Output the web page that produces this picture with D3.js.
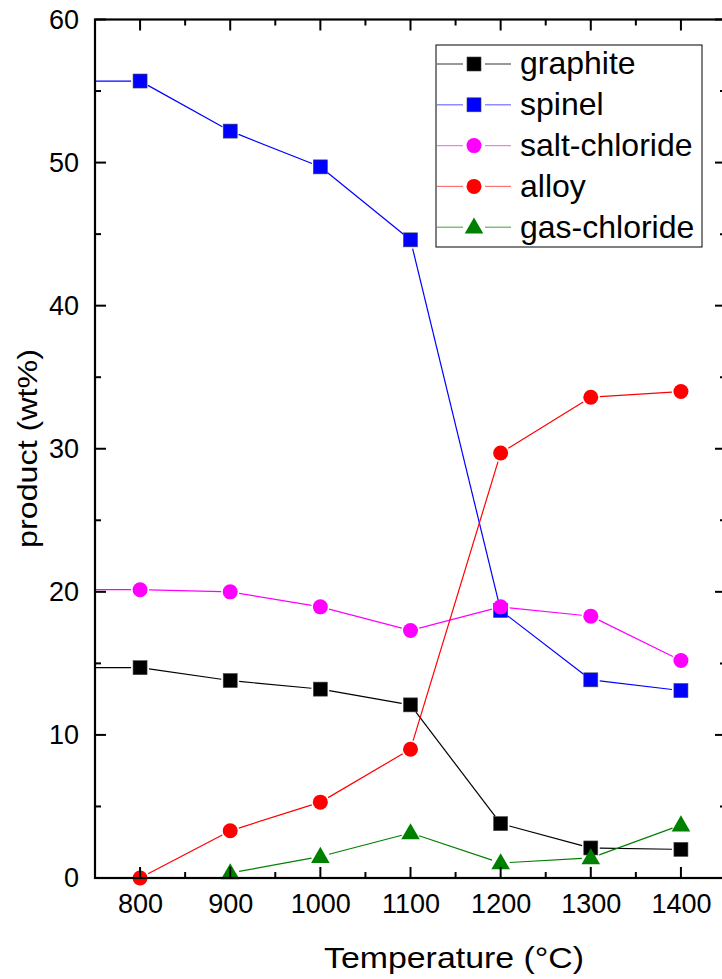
<!DOCTYPE html>
<html><head><meta charset="utf-8">
<script src="https://cdn.jsdelivr.net/npm/d3@7"></script>
<style>body{margin:0;background:#fff}svg{display:block}text{font-family:"Liberation Sans",Arial,sans-serif}</style>
</head><body><svg id="c" width="722" height="979"></svg>
<script>
// Data (temperature in °C, product in wt%). A point at 700 lies outside the visible range (clipped).
const temps = [700, 800, 900, 1000, 1100, 1200, 1300, 1400];
const graphite = [14.7, 14.7, 13.8, 13.2, 12.1, 3.8, 2.1, 2.0];
const spinel = [55.7, 55.7, 52.2, 49.7, 44.6, 18.7, 13.85, 13.1];
const saltChloride = [20.15, 20.15, 20.0, 18.95, 17.3, 18.95, 18.3, 15.2];
const alloy = [null, 0, 3.3, 5.3, 9.0, 29.7, 33.6, 34.0];
const gasChloride = [null, null, 0.35, 1.5, 3.15, 1.05, 1.4, 3.7];
const seriesNames = ["graphite", "spinel", "salt-chloride", "alloy", "gas-chloride"];
const xTicks = [800, 900, 1000, 1100, 1200, 1300, 1400];
const yTicks = [0, 10, 20, 30, 40, 50, 60];

const styles = [
  {color:"#000000", legend:"#555555", shape:"square"},
  {color:"#0000ff", legend:"#7070ff", shape:"square"},
  {color:"#ff00ff", legend:"#ff70ff", shape:"circle"},
  {color:"#ff0000", legend:"#ff7070", shape:"circle"},
  {color:"#008000", legend:"#60b060", shape:"triangle"}
];
const values = [graphite, spinel, saltChloride, alloy, gasChloride];

const svg = d3.select("#c");
const L = 95, R = 726, T = 19.5, B = 878;
const x = d3.scaleLinear().domain([750, 1450]).range([L, R]);
const y = d3.scaleLinear().domain([0, 60]).range([B, T]);

svg.append("defs").append("clipPath").attr("id","clip")
  .append("rect").attr("x",L).attr("y",T-20).attr("width",R-L).attr("height",B-T+40);

function marker(g, shape, cx, cy, color){
  if(shape==="square"){
    g.append("rect").attr("x",cx-7).attr("y",cy-7).attr("width",14).attr("height",14)
      .attr("fill",color).attr("stroke","#444").attr("stroke-width",0.6);
  } else if(shape==="circle"){
    g.append("circle").attr("cx",cx).attr("cy",cy).attr("r",7.5).attr("fill",color);
  } else {
    const s = d3.symbol().type(d3.symbolTriangle).size(150);
    g.append("path").attr("d",s()).attr("transform",`translate(${cx},${cy+1})`).attr("fill",color);
  }
}

const plot = svg.append("g").attr("clip-path","url(#clip)");
const gap = 9;
values.forEach((vals, i) => {
  const st = styles[i];
  const pts = temps.map((t, j) => vals[j] == null ? null : [x(t), y(vals[j])]).filter(p => p);
  const g = plot.append("g");
  for(let k=0;k<pts.length-1;k++){
    const [x1,y1] = pts[k], [x2,y2] = pts[k+1];
    const d = Math.hypot(x2-x1,y2-y1);
    if(d < 2*gap) continue;
    const ux=(x2-x1)/d, uy=(y2-y1)/d;
    g.append("line").attr("x1",x1+ux*gap).attr("y1",y1+uy*gap)
      .attr("x2",x2-ux*gap).attr("y2",y2-uy*gap)
      .attr("stroke",st.color).attr("stroke-width",1.2);
  }
  pts.forEach(p => marker(g, st.shape, p[0], p[1], st.color));
});

// Frame with inward ticks
const minorX = d3.range(750, 1451, 50);
const minorY = d3.range(0, 61, 5);
const ax = svg.append("g").attr("stroke","#000");
minorX.forEach(v => {
  const len = xTicks.includes(v) ? 11 : 6;
  ax.append("line").attr("x1",x(v)).attr("x2",x(v)).attr("y1",B).attr("y2",B-len).attr("stroke-width",2);
  ax.append("line").attr("x1",x(v)).attr("x2",x(v)).attr("y1",T).attr("y2",T+len).attr("stroke-width",2);
});
minorY.forEach(v => {
  const len = yTicks.includes(v) ? 11 : 6;
  ax.append("line").attr("x1",L).attr("x2",L+len).attr("y1",y(v)).attr("y2",y(v)).attr("stroke-width",2);
  ax.append("line").attr("x1",R).attr("x2",R-len).attr("y1",y(v)).attr("y2",y(v)).attr("stroke-width",2);
});
ax.append("rect").attr("x",L).attr("y",T).attr("width",R-L).attr("height",B-T)
  .attr("fill","none").attr("stroke-width",2.2);

// Tick labels via D3 axes
const xa = svg.append("g").attr("transform",`translate(0,${B})`)
  .call(d3.axisBottom(x).tickValues(xTicks).tickSize(0).tickPadding(16).tickFormat(d3.format("d")));
xa.select(".domain").remove();
xa.selectAll("text").attr("font-size",27).attr("fill","#000").attr("font-family","Liberation Sans, Arial, sans-serif");
const ya = svg.append("g").attr("transform",`translate(${L},0)`)
  .call(d3.axisLeft(y).tickValues(yTicks).tickSize(0).tickPadding(16).tickFormat(d3.format("d")));
ya.select(".domain").remove();
ya.selectAll("text").attr("font-size",27).attr("fill","#000").attr("font-family","Liberation Sans, Arial, sans-serif");

// Axis titles
svg.append("text").attr("x",454).attr("y",968).attr("text-anchor","middle")
  .attr("font-size",30).attr("textLength",260).attr("lengthAdjust","spacingAndGlyphs")
  .text("Temperature (°C)");
svg.append("text").attr("transform",`translate(37,${448.5}) rotate(-90)`).attr("text-anchor","middle")
  .attr("font-size",28).attr("textLength",199).attr("lengthAdjust","spacingAndGlyphs")
  .text("product (wt%)");

// Legend
const lg = svg.append("g");
lg.append("rect").attr("x",436).attr("y",45).attr("width",266).attr("height",202)
  .attr("fill","#fff").attr("stroke","#000").attr("stroke-width",1);
seriesNames.forEach((name, i) => {
  const cy = 64 + i*40.8;
  const st = styles[i];
  lg.append("line").attr("x1",437).attr("x2",463).attr("y1",cy).attr("y2",cy).attr("stroke",st.legend).attr("stroke-width",1.2);
  lg.append("line").attr("x1",485).attr("x2",511).attr("y1",cy).attr("y2",cy).attr("stroke",st.legend).attr("stroke-width",1.2);
  marker(lg, st.shape, 474, cy, st.color);
  lg.append("text").attr("x",520).attr("y",cy+10.3).attr("font-size",32).text(name);
});
</script></body></html>
